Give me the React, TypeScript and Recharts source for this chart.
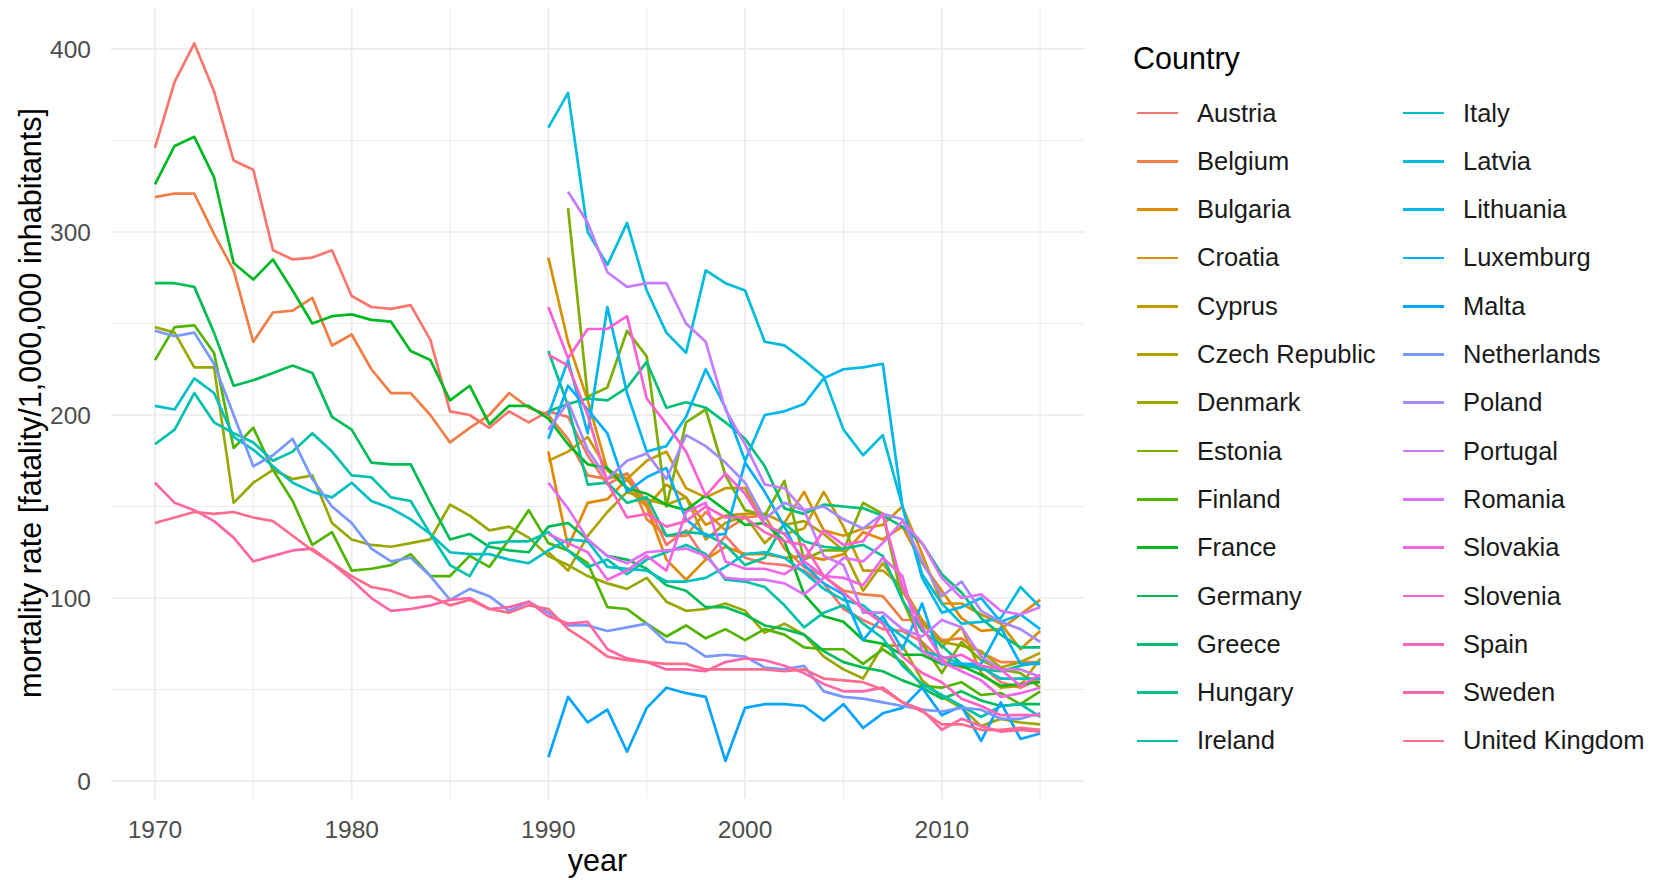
import React from 'react';
import { LineChart, Line, XAxis, YAxis, ReferenceLine } from 'recharts';

const years = [
  1970, 1971, 1972, 1973, 1974, 1975, 1976, 1977, 1978, 1979,
  1980, 1981, 1982, 1983, 1984, 1985, 1986, 1987, 1988, 1989,
  1990, 1991, 1992, 1993, 1994, 1995, 1996, 1997, 1998, 1999,
  2000, 2001, 2002, 2003, 2004, 2005, 2006, 2007, 2008, 2009,
  2010, 2011, 2012, 2013, 2014, 2015,
];
const xTicks = [1970, 1980, 1990, 2000, 2010];
const xMinor = [1975, 1985, 1995, 2005, 2015];
const yTicks = [0, 100, 200, 300, 400];
const yMinor = [50, 150, 250, 350];

const countries = [
  'Austria', 'Belgium', 'Bulgaria', 'Croatia', 'Cyprus', 'Czech Republic', 'Denmark',
  'Estonia', 'Finland', 'France', 'Germany', 'Greece', 'Hungary', 'Ireland',
  'Italy', 'Latvia', 'Lithuania', 'Luxemburg', 'Malta', 'Netherlands', 'Poland',
  'Portugal', 'Romania', 'Slovakia', 'Slovenia', 'Spain', 'Sweden', 'United Kingdom',
];

// series run up to 2015; the first value belongs to 2015 - length + 1
// 1970-2015
const austria = [346, 382, 403, 377, 339, 334, 290, 285, 286, 290, 265, 259, 258, 260, 241, 202, 200, 193, 202, 196, 202, 199, 178, 162, 168, 152, 129, 137, 121, 134, 122, 119, 118, 115, 108, 94, 88, 83, 82, 76, 66, 62, 63, 54, 51, 56];
const belgium = [319, 321, 321, 299, 279, 240, 256, 257, 264, 238, 244, 225, 212, 212, 200, 185, 193, 200, 212, 204, 200, 187, 167, 165, 168, 143, 134, 134, 147, 137, 144, 145, 127, 117, 112, 104, 102, 101, 88, 88, 77, 78, 70, 65, 65, 65];
const denmark = [248, 245, 226, 226, 152, 163, 170, 165, 167, 141, 132, 129, 128, 130, 132, 151, 145, 137, 139, 133, 123, 118, 112, 108, 105, 111, 98, 93, 94, 97, 93, 81, 86, 80, 68, 61, 56, 74, 74, 55, 46, 40, 30, 34, 32, 31];
const finland = [230, 248, 249, 234, 182, 193, 170, 153, 129, 136, 115, 116, 118, 124, 112, 112, 123, 117, 132, 148, 130, 126, 119, 95, 94, 86, 79, 85, 78, 83, 77, 83, 80, 73, 72, 72, 64, 72, 65, 52, 51, 54, 47, 48, 42, 49];
const france = [326, 347, 352, 330, 283, 274, 285, 268, 250, 254, 255, 252, 251, 235, 230, 208, 216, 195, 205, 205, 198, 184, 173, 171, 160, 157, 151, 148, 156, 148, 140, 141, 131, 102, 90, 87, 77, 75, 69, 69, 64, 63, 58, 52, 53, 54];
const germany = [272, 272, 270, 245, 216, 219, 223, 227, 223, 199, 192, 174, 173, 173, 152, 132, 135, 128, 126, 125, 139, 141, 132, 123, 121, 116, 107, 104, 95, 95, 91, 85, 83, 80, 71, 65, 62, 60, 55, 51, 45, 49, 44, 41, 42, 42];
const ireland = [184, 192, 212, 196, 190, 185, 175, 180, 190, 180, 167, 166, 155, 153, 135, 118, 112, 130, 131, 131, 136, 126, 117, 121, 113, 121, 125, 129, 124, 110, 109, 106, 96, 84, 92, 96, 86, 78, 63, 53, 47, 41, 35, 41, 42, 35];
const italy = [205, 203, 220, 212, 188, 181, 172, 163, 158, 155, 163, 153, 149, 143, 135, 125, 124, 124, 121, 119, 126, 132, 131, 117, 116, 115, 109, 109, 111, 117, 124, 125, 122, 114, 105, 99, 96, 87, 79, 71, 68, 64, 62, 56, 56, 56];
const netherlands = [246, 243, 245, 228, 200, 172, 178, 187, 165, 150, 141, 127, 120, 122, 112, 99, 105, 101, 93, 98, 92, 85, 85, 82, 84, 86, 76, 75, 68, 69, 68, 62, 61, 63, 49, 46, 45, 43, 41, 39, 38, 40, 39, 34, 34, 37];
const sweden = [163, 152, 148, 142, 133, 120, 123, 126, 127, 119, 110, 100, 93, 94, 96, 99, 100, 94, 95, 98, 90, 86, 87, 72, 67, 65, 61, 61, 60, 65, 67, 66, 63, 59, 53, 49, 49, 51, 43, 39, 28, 34, 30, 27, 28, 27];
const unitedKingdom = [141, 144, 147, 146, 147, 144, 142, 134, 126, 119, 112, 106, 104, 100, 101, 96, 99, 94, 92, 96, 94, 83, 76, 68, 66, 65, 64, 64, 61, 61, 61, 61, 60, 61, 56, 55, 54, 50, 43, 38, 31, 31, 28, 28, 29, 28];

// 1990-2015
const bulgaria = [180, 128, 152, 154, 165, 150, 121, 110, 121, 128, 124, 124, 122, 123, 121, 124, 136, 132, 139, 119, 104, 89, 82, 83, 91, 99];
const croatia = [286, 240, 208, 170, 160, 150, 162, 155, 140, 145, 146, 146, 141, 158, 137, 134, 138, 140, 150, 124, 97, 97, 91, 86, 72, 82];
const cyprus = [175, 180, 188, 170, 165, 175, 180, 160, 155, 160, 160, 140, 135, 138, 158, 139, 115, 115, 106, 88, 73, 84, 59, 51, 52, 67];
const czechRepublic = [125, 115, 134, 147, 158, 154, 151, 155, 132, 141, 145, 130, 140, 142, 135, 126, 104, 119, 104, 86, 76, 74, 71, 62, 65, 70];
const greece = [202, 206, 209, 208, 215, 229, 204, 207, 204, 196, 187, 172, 149, 146, 151, 150, 149, 145, 139, 130, 113, 103, 89, 80, 73, 73];
const hungary = [235, 205, 162, 163, 152, 155, 134, 136, 135, 129, 118, 122, 141, 131, 128, 127, 129, 123, 99, 82, 74, 64, 61, 60, 63, 65];
const latvia = [357, 376, 300, 282, 305, 268, 245, 234, 279, 272, 268, 240, 238, 230, 221, 192, 178, 189, 150, 113, 97, 86, 87, 89, 106, 95];
const lithuania = [200, 230, 190, 259, 212, 180, 183, 199, 225, 204, 175, 200, 202, 206, 220, 225, 226, 228, 150, 111, 92, 95, 100, 87, 91, 83];
const luxemburg = [187, 216, 203, 190, 158, 166, 171, 143, 134, 135, 174, 158, 139, 118, 108, 102, 77, 90, 72, 97, 64, 64, 64, 84, 64, 64];
const malta = [13, 46, 32, 39, 16, 40, 51, 48, 46, 11, 40, 42, 42, 41, 33, 42, 29, 37, 40, 51, 36, 41, 22, 43, 23, 26];
const poland = [192, 207, 181, 165, 175, 179, 165, 189, 183, 174, 163, 143, 152, 148, 150, 143, 138, 146, 143, 120, 101, 109, 93, 87, 83, 76];
const romania = [163, 149, 132, 123, 119, 125, 126, 127, 123, 111, 110, 110, 108, 102, 111, 122, 120, 130, 142, 130, 111, 100, 102, 93, 91, 95];
const slovakia = [135, 130, 125, 110, 115, 123, 115, 147, 152, 120, 116, 116, 113, 120, 112, 111, 107, 122, 112, 71, 65, 60, 55, 46, 48, 51];
const slovenia = [259, 231, 247, 247, 254, 209, 195, 180, 156, 168, 157, 140, 135, 121, 137, 129, 131, 146, 106, 84, 67, 69, 63, 61, 52, 58];
const spain = [233, 227, 200, 163, 144, 146, 139, 142, 150, 144, 144, 136, 131, 129, 112, 103, 94, 86, 68, 59, 54, 45, 41, 36, 36, 36];

// 1991-2015
const estonia = [313, 210, 215, 246, 232, 150, 196, 203, 167, 148, 145, 164, 121, 126, 126, 152, 146, 99, 75, 59, 76, 66, 61, 59, 51];
const portugal = [322, 305, 278, 270, 272, 272, 250, 240, 203, 184, 162, 160, 148, 123, 118, 92, 92, 83, 79, 88, 84, 68, 61, 61, 57];

const values: Record<string, number[]> = {
  Austria: austria,
  Belgium: belgium,
  Bulgaria: bulgaria,
  Croatia: croatia,
  Cyprus: cyprus,
  'Czech Republic': czechRepublic,
  Denmark: denmark,
  Estonia: estonia,
  Finland: finland,
  France: france,
  Germany: germany,
  Greece: greece,
  Hungary: hungary,
  Ireland: ireland,
  Italy: italy,
  Latvia: latvia,
  Lithuania: lithuania,
  Luxemburg: luxemburg,
  Malta: malta,
  Netherlands: netherlands,
  Poland: poland,
  Portugal: portugal,
  Romania: romania,
  Slovakia: slovakia,
  Slovenia: slovenia,
  Spain: spain,
  Sweden: sweden,
  'United Kingdom': unitedKingdom,
};

// ggplot's default hue palette: hcl(h, c = 100, l = 65)
function hcl(h: number, c = 100, l = 65): string {
  const hr = (h * Math.PI) / 180;
  const U = c * Math.cos(hr);
  const V = c * Math.sin(hr);
  const Xn = 95.047, Yn = 100, Zn = 108.883;
  const Y = Yn * Math.pow((l + 16) / 116, 3);
  const den = Xn + 15 * Yn + 3 * Zn;
  const u = U / (13 * l) + (4 * Xn) / den;
  const v = V / (13 * l) + (9 * Yn) / den;
  const X = (Y * 9 * u) / (4 * v);
  const Z = (Y * (12 - 3 * u - 20 * v)) / (4 * v);
  const x = X / 100, y = Y / 100, z = Z / 100;
  const lin = [
    3.240479 * x - 1.53715 * y - 0.498535 * z,
    -0.969256 * x + 1.875992 * y + 0.041556 * z,
    0.055648 * x - 0.204043 * y + 1.057311 * z,
  ];
  return (
    '#' +
    lin
      .map((ch) => {
        const g = ch <= 0.0031308 ? 12.92 * ch : 1.055 * Math.pow(ch, 1 / 2.4) - 0.055;
        const n = Math.round(Math.min(1, Math.max(0, g)) * 255);
        return n.toString(16).padStart(2, '0');
      })
      .join('')
  );
}

const colors = countries.map((_, i) => hcl(15 + (360 * i) / countries.length));

const data = years.map((year) => {
  const row: Record<string, number | null> = { year };
  countries.forEach((name) => {
    const vals = values[name];
    const idx = year - (2015 - vals.length + 1);
    row[name] = idx >= 0 ? vals[idx] : null;
  });
  return row;
});

const FONT = '"Liberation Sans", Arial, sans-serif';
const GRID = '#EBEBEB';

export default function App() {
  const rowsPerCol = 14;
  return (
    <div
      style={{
        position: 'absolute',
        left: 0,
        top: 0,
        width: 1675,
        height: 880,
        background: '#fff',
        fontFamily: FONT,
        overflow: 'hidden',
      }}
    >
      <LineChart
        width={1100}
        height={880}
        data={data}
        margin={{ top: 7.5, right: 15.6, left: 0, bottom: 0 }}
      >
        {/* panel grid: minor lines thinner than major ones */}
        {yMinor.map((v) => (
          <ReferenceLine key={'ym' + v} y={v} stroke={GRID} strokeWidth={1} />
        ))}
        {xMinor.map((v) => (
          <ReferenceLine key={'xm' + v} x={v} stroke={GRID} strokeWidth={1} />
        ))}
        {yTicks.map((v) => (
          <ReferenceLine key={'y' + v} y={v} stroke={GRID} strokeWidth={1.7} />
        ))}
        {xTicks.map((v) => (
          <ReferenceLine key={'x' + v} x={v} stroke={GRID} strokeWidth={1.7} />
        ))}
        <XAxis
          dataKey="year"
          type="number"
          domain={[1967.75, 2017.25]}
          allowDataOverflow
          ticks={xTicks}
          height={81.3}
          axisLine={false}
          tickLine={false}
          tickSize={0}
          tickMargin={21.6}
          tick={{ fill: '#4D4D4D', fontSize: 24.5, fontFamily: FONT }}
        />
        <YAxis
          type="number"
          domain={[-9.65, 422.65]}
          allowDataOverflow
          ticks={yTicks}
          width={110.7}
          axisLine={false}
          tickLine={false}
          tickSize={0}
          tickMargin={19.7}
          tick={{ fill: '#4D4D4D', fontSize: 24.5, fontFamily: FONT }}
        />
        {countries.map((name, i) => (
          <Line
            key={name}
            dataKey={name}
            stroke={colors[i]}
            strokeWidth={2.7}
            strokeLinejoin="round"
            dot={false}
            activeDot={false}
            isAnimationActive={false}
          />
        ))}
      </LineChart>

      <div
        style={{
          position: 'absolute',
          left: 30,
          top: 403,
          transform: 'translate(-50%, -50%) rotate(-90deg)',
          whiteSpace: 'nowrap',
          fontSize: 30.5,
          lineHeight: 1,
          color: '#000',
        }}
      >
        mortality rate [fatality/1,000,000 inhabitants]
      </div>
      <div
        style={{
          position: 'absolute',
          left: 597.5,
          top: 845,
          transform: 'translateX(-50%)',
          fontSize: 30.5,
          lineHeight: 1,
          color: '#000',
        }}
      >
        year
      </div>

      <div
        style={{
          position: 'absolute',
          left: 1133,
          top: 58 - 0.49 * 30.5,
          fontSize: 30.5,
          lineHeight: 1,
          color: '#000',
        }}
      >
        Country
      </div>
      {countries.map((name, i) => {
        const col = Math.floor(i / rowsPerCol);
        const row = i % rowsPerCol;
        const left = col === 0 ? 1137 : 1403;
        const cy = 113 + 48.3 * row;
        return (
          <div key={name}>
            <div
              style={{
                position: 'absolute',
                left,
                top: cy - 1.35,
                width: 41,
                height: 2.7,
                background: colors[i],
              }}
            />
            <div
              style={{
                position: 'absolute',
                left: left + 60,
                top: cy - 0.49 * 25.5,
                fontSize: 25.5,
                lineHeight: 1,
                whiteSpace: 'nowrap',
                color: '#1a1a1a',
              }}
            >
              {name}
            </div>
          </div>
        );
      })}
    </div>
  );
}
